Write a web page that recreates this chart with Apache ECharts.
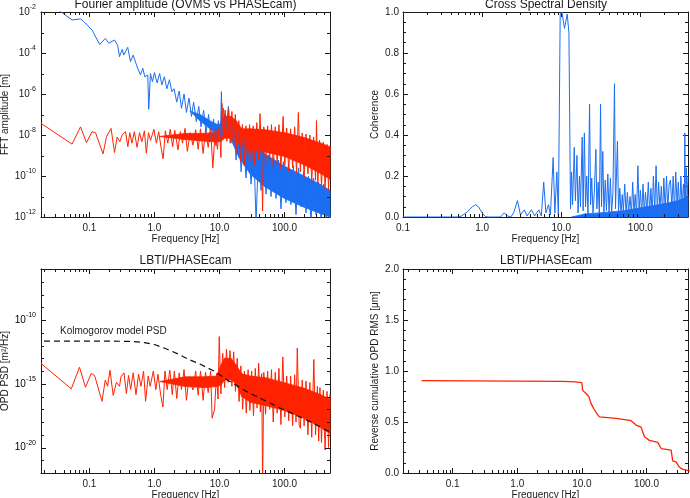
<!DOCTYPE html>
<html>
<head>
<meta charset="utf-8">
<script src="https://cdn.jsdelivr.net/npm/echarts@6.0.0/dist/echarts.min.js"></script>
<style>
  html, body { margin: 0; padding: 0; background: #fff; }
  #chart { width: 690px; height: 498px; }
</style>
</head>
<body>
<div id="chart"></div>
<script>
const FONT = 'Liberation Sans'
const INK = '#1a1a1a'
const BLUE = '#1c6ef2'
const RED = '#ff2200'

// tick values and labels
const freqTicks = [0.1, 1, 10, 100]
const freqTickLabels = ['0.1', '1.0', '10.0', '100.0']
const freqMinor = [0.02, 0.03, 0.04, 0.05, 0.06, 0.07, 0.08, 0.09,
  0.2, 0.3, 0.4, 0.5, 0.6, 0.7, 0.8, 0.9,
  2, 3, 4, 5, 6, 7, 8, 9,
  20, 30, 40, 50, 60, 70, 80, 90,
  200, 300, 400]
const ampLabelExp = [-12, -10, -8, -6, -4, -2]
const ampMinor = [1e-11, 1e-9, 1e-7, 1e-5, 1e-3]
const psdMajor = [1e-20, 1e-15, 1e-10]
const psdMajorExp = [-20, -15, -10]
const psdMinor = [1e-21, 1e-19, 1e-18, 1e-17, 1e-16, 1e-14, 1e-13, 1e-12, 1e-11, 1e-9, 1e-8, 1e-7]

// top left: FFT amplitude [Hz, m]
const ovmsAmp = [[0.03, 1.6e-2], [0.054, 4.1e-3], [0.073, 4.6e-3], [0.082, 3.4e-3], [0.11, 1.3e-3],
  [0.144, 2.6e-4], [0.176, 5.2e-4], [0.198, 3.0e-4], [0.243, 4.3e-4], [0.272, 2.4e-4], [0.29, 6.6e-5],
  [0.319, 1.5e-4], [0.337, 7.9e-5], [0.388, 1.9e-4], [0.427, 3.8e-5], [0.47, 7.9e-5], [0.542, 2.1e-5],
  [0.609, 8.5e-6], [0.661, 1.8e-5], [0.71, 6.9e-6], [0.789, 8.5e-6], [0.817, 1.8e-7], [0.867, 1.0e-5],
  [0.93, 4e-6], [1.0, 1.1e-5], [1.1, 3.5e-6], [1.2, 1e-5], [1.3, 2.8e-6], [1.42, 7e-6], [1.55, 1.8e-6],
  [1.7, 5e-6], [1.85, 1.3e-6], [2.0, 1.8e-6], [2.2, 4e-7], [2.4, 1.4e-6], [2.6, 2e-7], [2.85, 1e-6],
  [3.1, 1.26e-7], [3.4, 6.3e-7], [3.7, 8e-8], [4.0, 4e-7], [4.4, 4.5e-8], [4.8, 2.5e-7], [5.2, 2.5e-8],
  [5.7, 1.6e-7], [6.2, 1.3e-8], [6.8, 1e-7], [7.4, 6e-9], [8.1, 6e-8], [8.8, 3e-9], [9.6, 5e-8],
  [10.3, 5e-9], [10.7, 1.3e-6], [11.0, 1e-8], [11.5, 2e-7], [12.5, 1.3e-8], [13.7, 2.5e-7], [15, 4e-9],
  [16.4, 6e-8], [18, 6e-10], [19.6, 2.5e-8], [21.5, 1.6e-10], [23.5, 1e-8], [25.5, 8e-11], [28, 5e-9],
  [30.5, 4e-11], [33.5, 3e-9], [36.5, 6e-13], [40, 2.5e-9], [43.5, 2e-11], [47.5, 1.6e-9], [52, 1.3e-11],
  [57, 1e-9], [62, 1e-11], [68, 8e-10], [74, 8e-12], [81, 6e-10], [88, 2.5e-12], [96, 5e-10], [105, 5e-12],
  [115, 4e-10], [125, 4e-12], [137, 3.2e-10], [150, 1.3e-12], [164, 2.5e-10], [179, 3.2e-12],
  [196, 1.6e-10], [214, 1.6e-12], [234, 1e-10], [255, 6e-13], [280, 8e-11], [305, 1.3e-12], [333, 5e-11],
  [365, 6e-13], [400, 4e-11], [435, 8e-13], [475, 2.5e-11], [500, 6e-13]]
const ovmsBand = [[3.5, 1.5e-7, 1.5e-7], [5.0, 5e-8, 1e-7], [8.0, 1.5e-8, 4e-8], [10, 1e-8, 3e-8],
  [12, 1.5e-8, 1e-7], [15, 6e-9, 5e-8], [20, 8e-10, 1e-8], [30, 1.2e-10, 3e-9], [50, 3e-11, 1.2e-9],
  [100, 8e-12, 3e-10], [200, 3e-12, 1e-10], [350, 1.5e-12, 4e-11], [500, 1e-12, 2e-11]]
const phaseAmp = [[0.018, 3.7e-8], [0.054, 3.6e-9], [0.073, 2.5e-8], [0.09, 4.3e-9], [0.11, 1.45e-8],
  [0.124, 1.3e-8], [0.162, 1.2e-9], [0.183, 8.3e-9], [0.195, 7e-9], [0.215, 2.1e-8], [0.243, 1.4e-9],
  [0.267, 8e-9], [0.293, 4.7e-9], [0.318, 1e-8], [0.358, 1.45e-8], [0.39, 2.7e-9], [0.417, 1.3e-8],
  [0.45, 4e-9], [0.49, 1.45e-8], [0.54, 2.5e-9], [0.59, 1.3e-8], [0.64, 4.7e-9], [0.7, 1.6e-8],
  [0.75, 1.3e-9], [0.81, 1.3e-8], [0.87, 5.5e-9], [0.98, 1.9e-8], [1.07, 4e-9], [1.16, 1.45e-8],
  [1.27, 2.2e-9], [1.36, 7e-10], [1.47, 1.6e-8], [1.6, 4e-9], [1.75, 1.9e-8], [1.9, 2.7e-9], [2.05, 1.7e-8],
  [2.3, 1.9e-9], [2.5, 1.45e-8], [2.7, 4e-9], [2.95, 2.1e-8], [3.2, 1.6e-9], [3.55, 1.3e-8], [3.9, 3.2e-9],
  [4.3, 1.8e-8], [4.7, 2e-9], [5.1, 2e-8], [5.6, 1.26e-9], [6.1, 1.8e-8], [6.7, 2.5e-9], [7.3, 2e-8],
  [7.9, 2.5e-10], [8.6, 1.8e-8], [9.3, 2e-9], [10.0, 3.2e-8], [10.5, 8e-10], [10.9, 3.5e-7], [11.5, 6.3e-9],
  [12.2, 1.6e-7], [13, 5e-9], [13.8, 1.8e-7], [14.6, 4e-9], [15.5, 1.4e-7], [16.5, 3.2e-9], [17.5, 1e-7],
  [18.6, 1.26e-9], [19.8, 5e-8], [21, 5e-10], [22.5, 3.2e-8], [24, 3.2e-10], [25.5, 2.8e-8], [27, 5e-10],
  [29, 3.2e-8], [31, 4e-10], [33, 2.8e-8], [35, 3.2e-10], [37.5, 4e-8], [40, 6.3e-10], [42, 1.1e-7],
  [44.5, 4e-10], [46, 2e-12], [48, 2.5e-8], [51, 3.2e-10], [55, 2.8e-8], [59, 5e-10], [63, 3.2e-8],
  [67, 2.5e-10], [72, 2.5e-8], [77, 4e-10], [82, 3.2e-8], [88, 2e-10], [95, 8e-8], [101, 3.2e-10],
  [108, 2.2e-8], [116, 1.6e-10], [124, 2e-8], [133, 2.5e-10], [143, 2.5e-8], [153, 1.26e-10], [163, 1.26e-7],
  [175, 1.6e-10], [187, 1.26e-8], [200, 8e-11], [214, 1.1e-8], [229, 1.26e-10], [245, 1e-8], [262, 5e-11],
  [280, 8e-9], [300, 6.3e-11], [310, 5e-8], [325, 4e-11], [345, 5.6e-9], [370, 3.2e-11], [395, 4.5e-9],
  [420, 2.5e-11], [450, 3.5e-9], [475, 2e-11], [500, 3.2e-9]]
const phaseBand = [[1.2, 8.5e-9, 8.5e-9], [3, 6e-9, 1.2e-8], [6, 5e-9, 1.2e-8], [9, 4.5e-9, 1.4e-8],
  [10.5, 5e-9, 4e-8], [12, 7e-9, 8e-8], [15, 7e-9, 8e-8], [18, 5e-9, 5e-8], [22, 2.5e-9, 2e-8],
  [30, 1.6e-9, 2e-8], [50, 1.5e-9, 1.8e-8], [100, 9e-10, 1.3e-8], [200, 3.5e-10, 7.5e-9],
  [350, 1.4e-10, 4.2e-9], [500, 7e-11, 2.6e-9]]

// top right: coherence
const coherence = [[0.1, 0], [0.5, 0], [0.55, 0.005], [0.65, 0.025], [0.75, 0.05], [0.83, 0.06], [0.9, 0.05],
  [1.0, 0.02], [1.1, 0.002], [1.2, 0], [1.7, 0], [1.9, 0.02], [2.1, 0.005], [2.3, 0], [2.5, 0.02], [2.8, 0.08],
  [3.05, 0.01], [3.4, 0.035], [3.7, 0.005], [4.2, 0.035], [4.6, 0.005], [5.2, 0.035], [5.6, 0.005], [6.0, 0.17],
  [6.4, 0.02], [6.9, 0.06], [7.3, 0.01], [7.9, 0.29], [8.3, 0.02], [8.8, 0.22], [9.2, 0], [9.7, 0.99],
  [10.2, 1.0], [11.0, 0.92], [11.9, 0.99], [12.5, 0.9], [13.1, 0.04], [13.5, 0.22], [13.9, 0.06], [14.6, 0.34],
  [15.1, 0.08], [15.8, 0.3], [16.3, 0.02], [17.0, 0.2], [17.5, 0.05], [18.4, 0.39], [18.9, 0.03], [19.6, 0.41],
  [20.3, 0.05], [21.0, 0.2], [21.8, 0.01], [22.8, 0.55], [23.5, 0.06], [24.3, 0.19], [25.2, 0.02], [26.2, 0.12],
  [27.4, 0.33], [28.2, 0.04], [29.3, 0.17], [30.3, 0.01], [31.4, 0.55], [32.3, 0.05], [33.5, 0.32], [34.6, 0.02],
  [36, 0.18], [37.3, 0.03], [38.8, 0.21], [40.2, 0.01], [41.8, 0.19], [43.3, 0.02], [45, 0.12], [47.1, 0.65],
  [48.5, 0.04], [51.3, 0.37], [53, 0.02], [55, 0.14], [57, 0.01], [59, 0.11], [61, 0.03], [63.5, 0.16],
  [66, 0.01], [68.5, 0.12], [71, 0.02], [74, 0.1], [77, 0.01], [80, 0.17], [83, 0.02], [86, 0.11], [89.5, 0.01],
  [93, 0.25], [96.5, 0.03], [100, 0.13], [104, 0.01], [108, 0.16], [112, 0.02], [116, 0.12], [121, 0.03],
  [126, 0.17], [131, 0.02], [136, 0.14], [141, 0.01], [146, 0.2], [152, 0.03], [158, 0.25], [164, 0.02],
  [170, 0.17], [177, 0.04], [184, 0.15], [191, 0.01], [198, 0.19], [206, 0.03], [214, 0.2], [222, 0.04],
  [231, 0.16], [240, 0.18], [250, 0.05], [260, 0.2], [270, 0.03], [280, 0.22], [291, 0.06], [302, 0.17],
  [313, 0.02], [325, 0.2], [337, 0.05], [350, 0.16], [360, 0.08], [365, 0.41], [370, 0.05], [380, 0.24],
  [390, 0.08], [400, 0.2]]
const coherenceBand = [[13.5, 0, 0], [20, 0, 0.015], [30, 0, 0.02], [60, 0, 0.03], [100, 0, 0.045],
  [200, 0, 0.065], [300, 0, 0.08], [400, 0, 0.1]]

// bottom left: OPD PSD [Hz, m^2/Hz]
const opdPsd = [[0.018, 3.9e-14], [0.0526, 4e-16], [0.0704, 2e-14], [0.087, 5.3e-16], [0.106, 6.3e-15],
  [0.12, 4.5e-15], [0.156, 4.2e-17], [0.175, 1.9e-15], [0.19, 6.3e-16], [0.207, 1.15e-14], [0.232, 1.2e-16],
  [0.26, 1.3e-15], [0.29, 6.3e-16], [0.305, 3.5e-15], [0.34, 7.2e-15], [0.37, 1.7e-16], [0.4, 4.5e-15],
  [0.43, 3.5e-16], [0.47, 7.2e-15], [0.52, 1.4e-16], [0.57, 5.6e-15], [0.62, 6.3e-16], [0.68, 1e-14],
  [0.73, 4.2e-17], [0.8, 4e-15], [0.86, 6.3e-16], [0.96, 1e-14], [1.05, 3.5e-16], [1.13, 5.6e-15],
  [1.25, 1.2e-16], [1.35, 1.5e-17], [1.45, 1e-14], [1.57, 3.5e-16], [1.72, 1.15e-14], [1.88, 1.4e-16],
  [2.02, 1e-14], [2.2, 7e-17], [2.4, 7.2e-15], [2.6, 3.5e-16], [2.85, 1.3e-14], [3.1, 5e-17], [3.4, 3.5e-15],
  [3.9, 3.2e-16], [4.3, 1e-14], [4.7, 1.26e-16], [5.1, 1e-14], [5.6, 5e-17], [6.1, 8e-15], [6.7, 2e-16],
  [7.3, 1e-14], [7.7, 2e-18], [8.4, 1e-17], [9.0, 6.3e-15], [9.5, 6.3e-17], [9.9, 5e-12], [10.5, 1.6e-16],
  [11.2, 2.5e-13], [12, 5e-16], [12.8, 5e-13], [13.6, 1.26e-15], [14.5, 4e-13], [15.5, 6.3e-16],
  [16.5, 3.2e-13], [17.6, 2.5e-16], [18.7, 1e-13], [20, 4e-17], [21.3, 2.5e-14], [22.7, 1e-17],
  [24.2, 1e-14], [25.8, 5e-18], [27.5, 1.26e-14], [29.3, 8e-18], [31.2, 1e-14], [33.3, 3.2e-18],
  [35.5, 1.6e-14], [37.8, 1.26e-17], [40, 4e-14], [42.5, 6.3e-18], [44.5, 6.3e-15], [46, 1e-23],
  [48, 8e-15], [51, 4e-18], [55, 1e-14], [59, 1e-17], [63, 1.26e-14], [67, 1e-18], [72, 8e-15], [77, 5e-18],
  [82, 1.6e-14], [88, 6.3e-19], [94, 1.26e-13], [101, 2.5e-18], [108, 4e-15], [116, 1.26e-18], [124, 4e-15],
  [133, 5e-19], [143, 5e-15], [150, 1e-18], [157, 6.3e-13], [168, 6e-19], [175, 3.2e-19], [187, 2e-15],
  [200, 5e-19], [214, 1.6e-15], [229, 1e-19], [245, 1.26e-15], [262, 6.3e-20], [282, 8e-14], [300, 1e-19],
  [320, 6.3e-16], [335, 3.2e-20], [350, 5e-16], [370, 2.5e-20], [395, 3.2e-16], [420, 6.3e-21],
  [450, 2.5e-16], [475, 1e-20], [500, 1.6e-16]]
const opdPsdBand = [[1.2, 1.5e-15, 1.5e-15], [3, 6e-16, 3.5e-15], [6, 5e-16, 3.5e-15], [9, 6e-16, 4e-15],
  [10.5, 8e-16, 3e-14], [12, 2e-15, 1e-13], [15, 2e-15, 1e-13], [18, 1e-15, 3e-14], [22, 1e-16, 6e-15],
  [30, 3.5e-17, 4e-15], [50, 2e-17, 3e-15], [100, 8e-18, 1.2e-15], [200, 2e-18, 4.5e-16],
  [350, 4e-19, 1.5e-16], [500, 1.3e-19, 6e-17]]
const kolmogorov = [[0.02, 2.2e-12], [0.2, 2.2e-12], [0.45, 2.1e-12], [0.7, 1.7e-12], [1.0, 1.2e-12],
  [1.5, 5.5e-13], [2.4, 2e-13], [3.2, 9e-14], [5, 3.5e-14], [8.2, 1e-14], [13, 2.1e-15], [26, 2.5e-16],
  [85, 1.26e-17], [275, 8.3e-19], [500, 1.6e-19]]

// bottom right: reverse cumulative OPD RMS [Hz, um]
const cumRms = [[0.033, 0.905], [1, 0.9], [5, 0.898], [8, 0.893], [10, 0.885], [10.3, 0.81], [11.6, 0.78],
  [12.8, 0.75], [13.9, 0.68], [15.6, 0.62], [17.6, 0.57], [18.7, 0.55], [33.9, 0.536], [57.9, 0.513],
  [69.1, 0.47], [82.6, 0.45], [93, 0.356], [111, 0.32], [150, 0.3], [169, 0.24], [241, 0.225], [255, 0.12],
  [287, 0.11], [325, 0.056], [367, 0.036], [470, 0.02]]

let chart = echarts.init(document.getElementById('chart'))

let textStyle = {fontFamily: FONT, fontSize: 10, color: INK}

function freqLabel(v) {
  let l = Math.log10(v)
  let e = Math.round(l)
  if (Math.abs(l - e) > 0.001) return ''
  let i = freqTicks.findIndex(t => Math.abs(Math.log10(t) - e) < 0.001)
  return i < 0 ? '' : freqTickLabels[i]
}

function powerLabel(exps) {
  return function (v) {
    let l = Math.log10(v)
    let e = Math.round(l)
    if (Math.abs(l - e) > 0.001 || exps.indexOf(e) < 0) return ''
    return '{b|10}{s|' + e + '}'
  }
}

let powerRich = {
  b: {fontFamily: FONT, fontSize: 10, color: INK, lineHeight: 16},
  s: {fontFamily: FONT, fontSize: 7, color: INK, lineHeight: 8, verticalAlign: 'top'}
}

function frame() {
  return {
    axisLine: {show: true, onZero: false, lineStyle: {color: INK, width: 1}},
    axisTick: {show: true, inside: true, length: 5, lineStyle: {color: INK, width: 1}},
    splitLine: {show: false}
  }
}

function freqAxis(g, min, max, bottom) {
  return Object.assign(frame(), {
    type: 'log', logBase: 10, gridIndex: g, min: min, max: max,
    position: bottom ? 'bottom' : 'top',
    name: bottom ? 'Frequency [Hz]' : '', nameLocation: 'middle', nameGap: 16,
    nameTextStyle: textStyle,
    axisLabel: Object.assign({show: bottom, margin: 6, formatter: freqLabel,
      showMinLabel: true, showMaxLabel: true}, textStyle)
  })
}

function logYAxis(g, min, max, base, exps, name, left) {
  return Object.assign(frame(), {
    type: 'log', logBase: base, gridIndex: g, min: min, max: max,
    position: left ? 'left' : 'right',
    name: left ? name : '', nameLocation: 'middle', nameGap: 31,
    nameTextStyle: textStyle,
    axisLabel: {show: left, margin: 5, formatter: powerLabel(exps), rich: powerRich,
      showMinLabel: true, showMaxLabel: true}
  })
}

// psd axis: decade ticks every 5, drawn by the tick series below
function psdYAxis(g, name, left) {
  let a = Object.assign(frame(), {
    type: 'log', logBase: 10, gridIndex: g, min: 1e-22, max: 1e-6,
    position: left ? 'left' : 'right',
    name: left ? name : '', nameLocation: 'middle', nameGap: 31,
    nameTextStyle: textStyle,
    axisLabel: {show: false}
  })
  a.axisTick = {show: false}
  return a
}

function linYAxis(g, max, interval, minorSplit, name, left) {
  return Object.assign(frame(), {
    type: 'value', gridIndex: g, min: 0, max: max, interval: interval,
    position: left ? 'left' : 'right',
    name: left ? name : '', nameLocation: 'middle', nameGap: 23,
    nameTextStyle: textStyle,
    minorTick: {show: true, splitNumber: minorSplit, length: 3, lineStyle: {color: INK, width: 1}},
    axisLabel: Object.assign({show: left, margin: 4, formatter: v => v.toFixed(1)}, textStyle)
  })
}

function renderBand(params, api) {
  let i = params.dataIndexInside
  if (i >= params.dataInsideLength - 1) return
  let f0 = api.value(0, i), f1 = api.value(0, i + 1)
  let pts = [
    api.coord([f0, api.value(1, i)]), api.coord([f1, api.value(1, i + 1)]),
    api.coord([f1, api.value(2, i + 1)]), api.coord([f0, api.value(2, i)])
  ]
  let color = api.visual('color')
  return {
    type: 'polygon',
    shape: {points: echarts.graphic.clipPointsByRect(pts, params.coordSys)},
    style: {fill: color, stroke: color, lineWidth: 0.8}
  }
}

function tickLines(segs) {
  return segs.map(s => ({
    type: 'line', shape: {x1: s[0], y1: s[1], x2: s[2], y2: s[3]},
    style: {stroke: INK, lineWidth: 1}
  }))
}

function renderMinorTick(params, api) {
  let cs = params.coordSys
  let p = api.coord([api.value(0), api.value(1)])
  let len = 3
  let segs
  if (api.value(2) === 0) {
    let x = Math.round(p[0]) + 0.5
    if (x <= cs.x + 1 || x >= cs.x + cs.width - 1) return
    segs = [[x, cs.y + cs.height, x, cs.y + cs.height - len], [x, cs.y, x, cs.y + len]]
  } else {
    let y = Math.round(p[1]) + 0.5
    if (y <= cs.y + 1 || y >= cs.y + cs.height - 1) return
    segs = [[cs.x, y, cs.x + len, y], [cs.x + cs.width, y, cs.x + cs.width - len, y]]
  }
  return {type: 'group', children: tickLines(segs)}
}

function renderPsdTick(params, api) {
  let cs = params.coordSys
  let p = api.coord([api.value(0), api.value(1)])
  let y = Math.round(p[1]) + 0.5
  let children = tickLines([[cs.x, y, cs.x + 5, y], [cs.x + cs.width, y, cs.x + cs.width - 5, y]])
  children.push({
    type: 'text', x: cs.x - 5, y: p[1],
    style: {text: '{b|10}{s|' + api.value(2) + '}', rich: powerRich, align: 'right', verticalAlign: 'middle'}
  })
  return {type: 'group', children: children}
}

function bandSeries(g, data, color) {
  return {
    type: 'custom', xAxisIndex: 2 * g, yAxisIndex: 2 * g, data: data,
    encode: {x: 0, y: [1, 2]}, itemStyle: {color: color}, renderItem: renderBand, silent: true
  }
}

function lineSeries(g, data, color, width) {
  return {
    type: 'line', xAxisIndex: 2 * g, yAxisIndex: 2 * g, data: data, showSymbol: false, symbol: 'none',
    lineStyle: {color: color, width: width || 1}, itemStyle: {color: color}, silent: true
  }
}

function minorSeries(g, xs, xRange, ys, yRange) {
  let data = []
  xs.forEach(f => { if (f > xRange[0] && f < xRange[1]) data.push([f, yRange[0], 0]) })
  ys.forEach(v => { if (v > yRange[0] && v < yRange[1]) data.push([xRange[0], v, 1]) })
  return {
    type: 'custom', xAxisIndex: 2 * g, yAxisIndex: 2 * g, data: data, z: 5,
    renderItem: renderMinorTick, silent: true
  }
}

let xr = [[0.018, 500], [0.1, 400], [0.018, 500], [0.017, 440]]

let gridBox = (left, top, width, height) => ({
  left: left, top: top, width: width, height: height, containLabel: false, outerBoundsMode: 'none'
})

chart.setOption({
  animation: false,
  backgroundColor: '#fff',
  textStyle: {fontFamily: FONT},
  grid: [
    gridBox(41, 12, 289, 205),
    gridBox(403, 12, 285, 205),
    gridBox(41, 269, 289, 204),
    gridBox(403, 269, 285, 204)
  ],
  xAxis: [
    freqAxis(0, xr[0][0], xr[0][1], true), freqAxis(0, xr[0][0], xr[0][1], false),
    freqAxis(1, xr[1][0], xr[1][1], true), freqAxis(1, xr[1][0], xr[1][1], false),
    freqAxis(2, xr[2][0], xr[2][1], true), freqAxis(2, xr[2][0], xr[2][1], false),
    freqAxis(3, xr[3][0], xr[3][1], true), freqAxis(3, xr[3][0], xr[3][1], false)
  ],
  yAxis: [
    logYAxis(0, 1e-12, 1e-2, 100, ampLabelExp, 'FFT amplitude [m]', true),
    logYAxis(0, 1e-12, 1e-2, 100, ampLabelExp, '', false),
    linYAxis(1, 1, 0.2, 4, 'Coherence', true),
    linYAxis(1, 1, 0.2, 4, '', false),
    psdYAxis(2, 'OPD PSD [m²/Hz]', true),
    psdYAxis(2, '', false),
    linYAxis(3, 2, 0.5, 5, 'Reverse cumulative OPD RMS [μm]', true),
    linYAxis(3, 2, 0.5, 5, '', false)
  ],
  graphic: [
    {type: 'text', x: 185.5, y: 5, style: {text: 'Fourier amplitude (OVMS vs PHASEcam)', font: '12px ' + FONT, fill: INK, align: 'center', verticalAlign: 'middle'}},
    {type: 'text', x: 546, y: 5, style: {text: 'Cross Spectral Density', font: '12px ' + FONT, fill: INK, align: 'center', verticalAlign: 'middle'}},
    {type: 'text', x: 185.5, y: 261, style: {text: 'LBTI/PHASEcam', font: '12px ' + FONT, fill: INK, align: 'center', verticalAlign: 'middle'}},
    {type: 'text', x: 546, y: 261, style: {text: 'LBTI/PHASEcam', font: '12px ' + FONT, fill: INK, align: 'center', verticalAlign: 'middle'}},
    {type: 'text', x: 60, y: 331, style: {text: 'Kolmogorov model PSD', font: '10px ' + FONT, fill: INK, align: 'left', verticalAlign: 'middle'}}
  ],
  series: [
    bandSeries(0, ovmsBand, BLUE),
    lineSeries(0, ovmsAmp, BLUE),
    bandSeries(0, phaseBand, RED),
    lineSeries(0, phaseAmp, RED),
    minorSeries(0, freqMinor, xr[0], ampMinor, [1e-12, 1e-2]),

    bandSeries(1, coherenceBand, BLUE),
    lineSeries(1, coherence, BLUE),
    minorSeries(1, freqMinor, xr[1], [], [0, 1]),

    bandSeries(2, opdPsdBand, RED),
    lineSeries(2, opdPsd, RED),
    Object.assign(lineSeries(2, kolmogorov, '#111', 1.2), {lineStyle: {color: '#111', width: 1.2, type: [6, 4]}}),
    minorSeries(2, freqMinor, xr[2], psdMinor, [1e-22, 1e-6]),
    {
      type: 'custom', xAxisIndex: 4, yAxisIndex: 4, z: 5, silent: true, renderItem: renderPsdTick,
      data: psdMajor.map((v, i) => [xr[2][0], v, psdMajorExp[i]])
    },

    lineSeries(3, cumRms, RED, 1.3),
    minorSeries(3, freqMinor, xr[3], [], [0, 2])
  ]
})
</script>
</body>
</html>
